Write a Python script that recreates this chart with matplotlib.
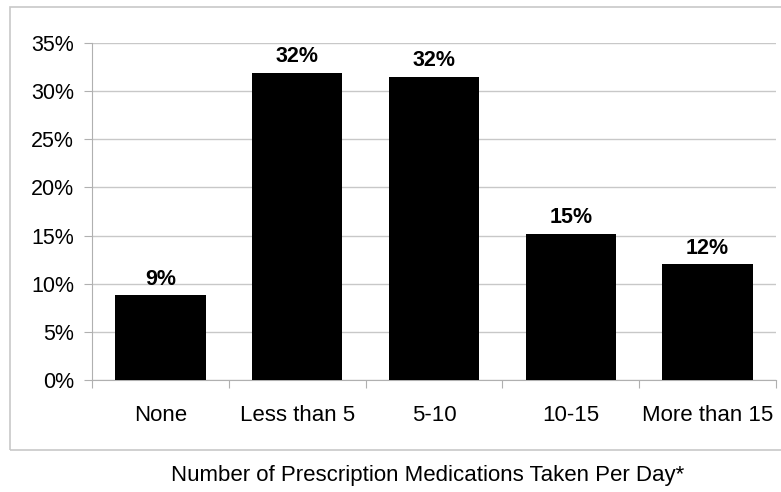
import numpy as np
import matplotlib.pyplot as plt
from matplotlib.patches import Rectangle

plt.rcParams['font.family'] = ['Liberation Sans', 'DejaVu Sans']

categories = ['None', 'Less than 5', '5-10', '10-15', 'More than 15']
values = [8.8, 31.9, 31.5, 15.2, 12.0]
labels = ['9%', '32%', '32%', '15%', '12%']
yticks = [0, 5, 10, 15, 20, 25, 30, 35]

fig = plt.figure(figsize=(7.81, 4.92), dpi=100)
ax = fig.add_axes([92/781, 1 - 380/492, (776 - 92)/781, (380 - 43)/492])

# outer chart border
fig.patches.append(Rectangle((10/781, 1 - 450/492), 1.0, (450 - 7)/492,
                             transform=fig.transFigure, fill=False,
                             edgecolor='#c8c8c8', linewidth=1.2, clip_on=True))

x = np.arange(len(categories))
ax.bar(x, values, width=0.66, color='black', zorder=3)
for xi, v, lab in zip(x, values, labels):
    ax.annotate(lab, (xi, v), xytext=(0, 4), textcoords='offset points',
                ha='center', va='bottom', fontsize=15.5, fontweight='bold')

ax.set_xlim(-0.5, len(categories) - 0.5)
ax.set_ylim(0, 35)
ax.set_yticks(yticks)
ax.set_yticklabels([f'{t}%' for t in yticks], fontsize=15.5)
ax.yaxis.grid(True, color='#c8c8c8', linewidth=1.0, zorder=0)

ax.set_xticks(np.arange(-0.5, len(categories), 1.0))
ax.set_xticklabels([])
ax.set_xticks(x, minor=True)
ax.set_xticklabels(categories, minor=True, fontsize=16)
ax.tick_params(axis='x', which='major', length=6, color='#b0b0b0')
ax.tick_params(axis='x', which='minor', length=0, pad=18)
ax.tick_params(axis='y', length=6, color='#b0b0b0', pad=7)

for s in ['top', 'right']:
    ax.spines[s].set_visible(False)
for s in ['left', 'bottom']:
    ax.spines[s].set_color('#b0b0b0')

fig.text(428/781, 1 - 475/492, 'Number of Prescription Medications Taken Per Day*',
         ha='center', va='center', fontsize=16)

fig.savefig('out.png', dpi=100)
